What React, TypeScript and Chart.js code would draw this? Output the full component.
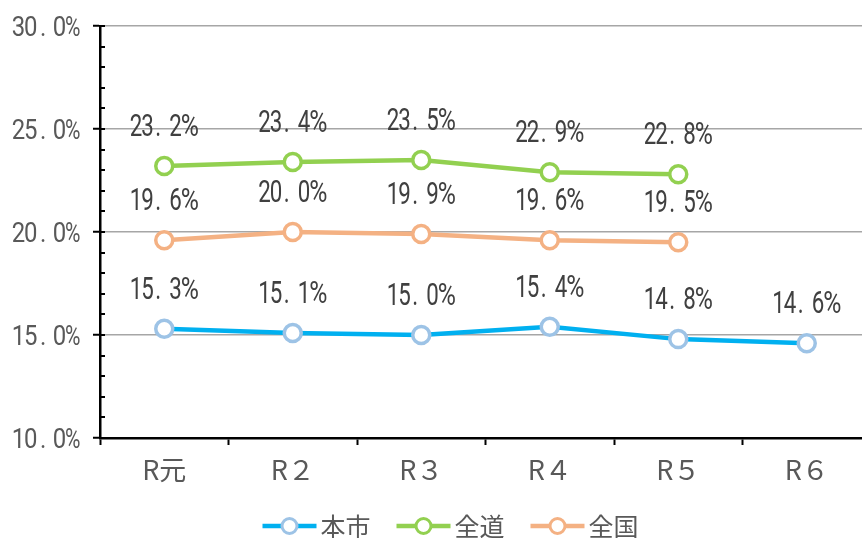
import React, { useEffect, useRef } from 'react';
import { Chart, registerables } from 'chart.js';

Chart.register(...registerables);

const categories = ['R元', 'R２', 'R３', 'R４', 'R５', 'R６'];
const seriesNames = ['本市', '全道', '全国'];
const cityValues = [15.3, 15.1, 15.0, 15.4, 14.8, 14.6];
const hokkaidoValues = [23.2, 23.4, 23.5, 22.9, 22.8, null];
const nationalValues = [19.6, 20.0, 19.9, 19.6, 19.5, null];
const yMin = 10;
const yMax = 30;
const yMajorStep = 5;
const yMinorStep = 1;

const lineColors = ['#00B0F0', '#92D050', '#F4B183'];
const markerColors = ['#9DC3E6', '#92D050', '#F4B183'];

const NUM_FAMILY = 'Roboto, "Liberation Sans", sans-serif';
const JP_FONT = '"Noto Sans CJK JP", "Noto Sans", sans-serif';

type NumStyle = {
  size: number;
  digitAdv: number;
  dotAdv: number;
  dotPos: number;
  pctAdv: number;
  sx: number;
  pctSx: number;
};

const dataLabelStyle: NumStyle = { size: 31, digitAdv: 11.5, dotAdv: 16.5, dotPos: 0.3, pctAdv: 17, sx: 0.72, pctSx: 0.8 };
const yLabelStyle: NumStyle = { size: 28.5, digitAdv: 12.2, dotAdv: 16.5, dotPos: 0.38, pctAdv: 14.5, sx: 0.84, pctSx: 0.74 };

function advOf(ch: string, st: NumStyle) {
  return ch === '.' ? st.dotAdv : ch === '%' ? st.pctAdv : st.digitAdv;
}

function drawNum(ctx: any, text: string, x: number, y: number, st: NumStyle, align: string) {
  let w = 0;
  for (const ch of text) w += advOf(ch, st);
  let cx = align === 'right' ? x - w : align === 'center' ? x - w / 2 : x;
  ctx.font = `${st.size}px ${NUM_FAMILY}`;
  ctx.textAlign = 'center';
  ctx.textBaseline = 'alphabetic';
  for (const ch of text) {
    const adv = advOf(ch, st);
    const sx = ch === '%' ? st.pctSx : st.sx;
    const gx = ch === '.' ? cx + adv * st.dotPos : cx + adv / 2;
    ctx.save();
    ctx.translate(gx, y);
    ctx.scale(sx, 1);
    ctx.fillText(ch, 0, 0);
    ctx.restore();
    cx += adv;
  }
}

const axisDecorPlugin = {
  id: 'axisDecor',
  afterDraw(chart: any) {
    const ctx = chart.ctx;
    const y = chart.scales.y;
    const x0 = chart.chartArea.left;
    ctx.save();
    ctx.strokeStyle = '#000';
    ctx.lineWidth = 2;
    ctx.beginPath();
    for (let v = yMin; v <= yMax; v += yMinorStep) {
      const py = Math.round(y.getPixelForValue(v));
      ctx.moveTo(x0, py);
      ctx.lineTo(x0 + 5, py);
    }
    ctx.stroke();
    ctx.fillStyle = '#595959';
    y.ticks.forEach((t: any) => {
      if (t.value % yMajorStep !== 0) return;
      const py = y.getPixelForValue(t.value);
      drawNum(ctx, t.value.toFixed(1) + '%', 80, py + 10, yLabelStyle, 'right');
    });
    ctx.restore();
  },
};

const dataLabelsPlugin = {
  id: 'dataLabelsCustom',
  afterDatasetsDraw(chart: any) {
    const ctx = chart.ctx;
    ctx.save();
    ctx.fillStyle = '#404040';
    chart.data.datasets.forEach((ds: any, i: number) => {
      const meta = chart.getDatasetMeta(i);
      meta.data.forEach((pt: any, j: number) => {
        const v = ds.data[j];
        if (v == null) return;
        drawNum(ctx, v.toFixed(1) + '%', pt.x, pt.y - 30, dataLabelStyle, 'center');
      });
    });
    ctx.restore();
  },
};

const legendPlugin = {
  id: 'customLegend',
  afterDraw(chart: any) {
    const ctx = chart.ctx;
    const itemW = 134;
    const total = itemW * chart.data.datasets.length - 25;
    let x = 451 - total / 2;
    const cy = 526;
    ctx.save();
    chart.data.datasets.forEach((ds: any) => {
      ctx.strokeStyle = ds.borderColor;
      ctx.lineWidth = 4.5;
      ctx.beginPath();
      ctx.moveTo(x, cy);
      ctx.lineTo(x + 54, cy);
      ctx.stroke();
      ctx.beginPath();
      ctx.arc(x + 27, cy, 7.5, 0, Math.PI * 2);
      ctx.fillStyle = '#fff';
      ctx.fill();
      ctx.lineWidth = 3;
      ctx.strokeStyle = ds.pointBorderColor;
      ctx.stroke();
      ctx.font = `25px ${JP_FONT}`;
      ctx.fillStyle = '#595959';
      ctx.textAlign = 'left';
      ctx.textBaseline = 'middle';
      ctx.fillText(ds.label, x + 58, cy);
      x += itemW;
    });
    ctx.restore();
  },
};

export default function App() {
  const canvasRef = useRef<HTMLCanvasElement | null>(null);

  useEffect(() => {
    if (!canvasRef.current) return;
    const valuesList = [cityValues, hokkaidoValues, nationalValues];
    const chart = new Chart(canvasRef.current, {
      type: 'line',
      data: {
        labels: categories,
        datasets: valuesList.map((vals, i) => ({
          label: seriesNames[i],
          data: vals,
          borderColor: lineColors[i],
          borderWidth: 4.5,
          pointRadius: 8.5,
          pointBorderWidth: 3.5,
          pointBackgroundColor: '#ffffff',
          pointBorderColor: markerColors[i],
          tension: 0,
          spanGaps: false,
        })),
      },
      options: {
        responsive: false,
        animation: false,
        devicePixelRatio: 1,
        layout: { padding: { top: 26, bottom: 40, left: 0, right: 0 } },
        plugins: {
          legend: { display: false },
          tooltip: { enabled: false },
        },
        scales: {
          x: {
            offset: true,
            afterFit(scale: any) {
              scale.height = 60;
            },
            border: { color: '#000', width: 2.5 },
            grid: {
              offset: true,
              drawOnChartArea: false,
              drawTicks: true,
              tickLength: 7,
              tickColor: '#000',
              tickWidth: 2,
            },
            ticks: {
              padding: 9,
              color: '#595959',
              font: { family: JP_FONT, size: 27 },
              maxRotation: 0,
              autoSkip: false,
            },
          },
          y: {
            min: yMin,
            max: yMax,
            afterFit(scale: any) {
              scale.width = 100;
            },
            border: { color: '#000', width: 2.5 },
            grid: {
              color: (c: any) => (c.tick && c.tick.value % yMajorStep === 0 ? '#A6A6A6' : 'rgba(0,0,0,0)'),
              lineWidth: 1.5,
              tickColor: (c: any) => (c.tick && c.tick.value % yMajorStep === 0 ? '#000' : 'rgba(0,0,0,0)'),
              tickLength: 7,
              tickWidth: 2,
            },
            ticks: {
              stepSize: yMinorStep,
              autoSkip: false,
              display: false,
            },
          },
        },
      },
      plugins: [axisDecorPlugin, dataLabelsPlugin, legendPlugin],
    });
    return () => chart.destroy();
  }, []);

  return (
    <div
      style={{
        position: 'fixed',
        left: 0,
        top: 0,
        width: 862,
        height: 538,
        overflow: 'hidden',
        background: '#fff',
      }}
    >
      <canvas ref={canvasRef} width={883} height={538} style={{ display: 'block', width: 883, height: 538 }} />
    </div>
  );
}
